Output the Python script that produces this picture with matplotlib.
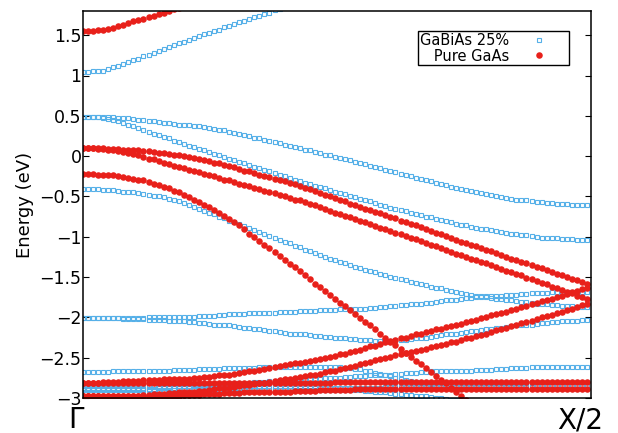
import matplotlib
matplotlib.use("Agg")
import matplotlib.pyplot as plt
import matplotlib.transforms as mtransforms
import numpy as np

# k path from Gamma (0) to X/2 (1), 101 samples per band
k_path = np.linspace(0, 1, 101)

# GaBiAs 25% bands (eV)
gabias_cb = [1.04, 1.04, 1.05, 1.05, 1.06, 1.08, 1.10, 1.12, 1.14, 1.17,
             1.19, 1.21, 1.24, 1.26, 1.28, 1.31, 1.33, 1.35, 1.38, 1.40,
             1.42, 1.44, 1.46, 1.49, 1.51, 1.53, 1.55, 1.57, 1.60, 1.62,
             1.64, 1.66, 1.68, 1.70, 1.72, 1.74, 1.76, 1.78, 1.81, 1.83, 1.85]
gabias_vb1 = [0.49, 0.49, 0.49, 0.49, 0.48, 0.48, 0.48, 0.47, 0.47, 0.47,
              0.46, 0.45, 0.45, 0.44, 0.43, 0.42, 0.41, 0.41, 0.40, 0.39,
              0.39, 0.38, 0.37, 0.37, 0.36, 0.35, 0.34, 0.33, 0.32, 0.30,
              0.29, 0.28, 0.26, 0.25, 0.23, 0.22, 0.20, 0.19, 0.17, 0.16,
              0.14, 0.13, 0.11, 0.10, 0.08, 0.07, 0.05, 0.04, 0.02, 0.01,
              -0.01, -0.02, -0.04, -0.05, -0.07, -0.08, -0.10, -0.12, -0.13, -0.15,
              -0.17, -0.19, -0.20, -0.22, -0.23, -0.25, -0.27, -0.28, -0.30, -0.31,
              -0.33, -0.35, -0.36, -0.38, -0.39, -0.41, -0.42, -0.43, -0.45, -0.46,
              -0.47, -0.48, -0.49, -0.51, -0.52, -0.53, -0.54, -0.55, -0.55, -0.56,
              -0.57, -0.57, -0.58, -0.58, -0.59, -0.59, -0.59, -0.60, -0.60, -0.60, -0.60]
gabias_vb2 = [0.49, 0.49, 0.49, 0.48, 0.47, 0.46, 0.45, 0.43, 0.41, 0.39,
              0.37, 0.35, 0.33, 0.30, 0.28, 0.26, 0.24, 0.22, 0.19, 0.17,
              0.15, 0.13, 0.11, 0.09, 0.07, 0.05, 0.03, 0.01, -0.01, -0.03,
              -0.05, -0.07, -0.09, -0.11, -0.13, -0.15, -0.17, -0.19, -0.21, -0.23,
              -0.25, -0.27, -0.29, -0.31, -0.33, -0.35, -0.37, -0.38, -0.40, -0.42,
              -0.44, -0.46, -0.47, -0.49, -0.51, -0.53, -0.55, -0.56, -0.58, -0.60,
              -0.62, -0.64, -0.65, -0.67, -0.68, -0.70, -0.72, -0.73, -0.75, -0.76,
              -0.78, -0.79, -0.81, -0.82, -0.84, -0.85, -0.86, -0.88, -0.89, -0.90,
              -0.91, -0.92, -0.93, -0.94, -0.95, -0.96, -0.97, -0.98, -0.98, -0.99,
              -1.00, -1.01, -1.01, -1.02, -1.02, -1.03, -1.03, -1.03, -1.04, -1.04, -1.04]
gabias_vb3 = [-0.41, -0.41, -0.41, -0.41, -0.42, -0.42, -0.42, -0.43, -0.44, -0.44,
              -0.45, -0.46, -0.47, -0.48, -0.49, -0.50, -0.51, -0.53, -0.54, -0.56,
              -0.58, -0.60, -0.63, -0.65, -0.68, -0.70, -0.72, -0.75, -0.77, -0.80,
              -0.82, -0.84, -0.87, -0.89, -0.92, -0.94, -0.96, -0.99, -1.01, -1.04,
              -1.06, -1.08, -1.11, -1.13, -1.16, -1.18, -1.20, -1.23, -1.25, -1.27,
              -1.29, -1.31, -1.33, -1.35, -1.37, -1.39, -1.41, -1.43, -1.44, -1.46,
              -1.48, -1.50, -1.51, -1.53, -1.54, -1.56, -1.57, -1.59, -1.60, -1.62,
              -1.63, -1.64, -1.66, -1.67, -1.69, -1.70, -1.71, -1.72, -1.73, -1.74,
              -1.75, -1.76, -1.77, -1.77, -1.78, -1.79, -1.80, -1.81, -1.81, -1.82,
              -1.83, -1.84, -1.84, -1.85, -1.85, -1.86, -1.86, -1.86, -1.87, -1.87, -1.87]
gabias_vb4 = [-2.01, -2.01, -2.01, -2.01, -2.01, -2.01, -2.01, -2.01, -2.01, -2.01,
              -2.01, -2.01, -2.01, -2.00, -2.00, -2.00, -2.00, -2.00, -1.99, -1.99,
              -1.99, -1.99, -1.99, -1.98, -1.98, -1.98, -1.98, -1.97, -1.97, -1.96,
              -1.96, -1.96, -1.96, -1.95, -1.95, -1.95, -1.94, -1.94, -1.94, -1.93,
              -1.93, -1.93, -1.93, -1.92, -1.92, -1.92, -1.92, -1.91, -1.91, -1.91,
              -1.91, -1.90, -1.90, -1.90, -1.89, -1.89, -1.89, -1.88, -1.88, -1.87,
              -1.87, -1.86, -1.86, -1.85, -1.85, -1.84, -1.83, -1.83, -1.82, -1.82,
              -1.81, -1.80, -1.79, -1.79, -1.78, -1.77, -1.76, -1.76, -1.75, -1.75,
              -1.74, -1.74, -1.73, -1.73, -1.72, -1.72, -1.72, -1.71, -1.71, -1.70,
              -1.70, -1.70, -1.70, -1.69, -1.69, -1.69, -1.69, -1.69, -1.68, -1.68, -1.68]
gabias_vb5 = [-2.01, -2.01, -2.01, -2.01, -2.01, -2.01, -2.01, -2.01, -2.02, -2.02,
              -2.02, -2.02, -2.02, -2.03, -2.03, -2.03, -2.03, -2.04, -2.04, -2.05,
              -2.05, -2.06, -2.06, -2.07, -2.07, -2.08, -2.09, -2.09, -2.10, -2.10,
              -2.11, -2.12, -2.13, -2.13, -2.14, -2.15, -2.16, -2.17, -2.17, -2.18,
              -2.19, -2.20, -2.20, -2.21, -2.21, -2.22, -2.23, -2.23, -2.24, -2.24,
              -2.25, -2.26, -2.26, -2.27, -2.27, -2.28, -2.28, -2.28, -2.29, -2.29,
              -2.29, -2.29, -2.28, -2.28, -2.28, -2.27, -2.26, -2.25, -2.25, -2.24,
              -2.23, -2.22, -2.21, -2.21, -2.20, -2.19, -2.18, -2.17, -2.17, -2.16,
              -2.15, -2.14, -2.13, -2.13, -2.12, -2.11, -2.10, -2.10, -2.09, -2.09,
              -2.08, -2.07, -2.07, -2.06, -2.06, -2.05, -2.05, -2.04, -2.04, -2.03, -2.03]
gabias_vb6 = [-2.68, -2.68, -2.68, -2.68, -2.68, -2.68, -2.67, -2.67, -2.67, -2.67,
              -2.67, -2.67, -2.67, -2.66, -2.66, -2.66, -2.66, -2.66, -2.65, -2.65,
              -2.65, -2.65, -2.65, -2.64, -2.64, -2.64, -2.64, -2.64, -2.63, -2.63,
              -2.63, -2.63, -2.63, -2.63, -2.63, -2.62, -2.62, -2.62, -2.62, -2.62,
              -2.62, -2.62, -2.62, -2.62, -2.62, -2.62, -2.62, -2.62, -2.62, -2.62,
              -2.62, -2.62, -2.63, -2.63, -2.64, -2.64, -2.66, -2.67, -2.69, -2.70,
              -2.72, -2.73, -2.75, -2.76, -2.78, -2.79, -2.80, -2.81, -2.82, -2.83,
              -2.84, -2.84, -2.85, -2.85, -2.86, -2.86, -2.86, -2.86, -2.86, -2.86,
              -2.86, -2.86, -2.86, -2.86, -2.86, -2.86, -2.86, -2.86, -2.86, -2.86,
              -2.85, -2.85, -2.85, -2.85, -2.85, -2.85, -2.85, -2.85, -2.85, -2.85, -2.85]
gabias_vb7 = [-2.88, -2.88, -2.88, -2.88, -2.88, -2.88, -2.88, -2.87, -2.87, -2.87,
              -2.87, -2.87, -2.87, -2.86, -2.86, -2.86, -2.86, -2.86, -2.85, -2.85,
              -2.85, -2.85, -2.84, -2.84, -2.84, -2.84, -2.83, -2.83, -2.83, -2.82,
              -2.82, -2.82, -2.81, -2.81, -2.80, -2.80, -2.80, -2.79, -2.79, -2.78,
              -2.78, -2.78, -2.77, -2.77, -2.77, -2.76, -2.76, -2.76, -2.75, -2.75,
              -2.75, -2.75, -2.74, -2.74, -2.73, -2.73, -2.73, -2.72, -2.72, -2.71,
              -2.71, -2.71, -2.70, -2.70, -2.69, -2.69, -2.69, -2.68, -2.68, -2.67,
              -2.67, -2.67, -2.67, -2.66, -2.66, -2.66, -2.66, -2.66, -2.65, -2.65,
              -2.65, -2.65, -2.64, -2.64, -2.64, -2.63, -2.63, -2.63, -2.63, -2.62,
              -2.62, -2.62, -2.62, -2.62, -2.62, -2.62, -2.62, -2.62, -2.62, -2.62, -2.62]
gabias_vb8 = [-2.89, -2.89, -2.89, -2.89, -2.89, -2.89, -2.89, -2.89, -2.89, -2.89,
              -2.89, -2.89, -2.89, -2.89, -2.89, -2.88, -2.88, -2.88, -2.88, -2.88,
              -2.88, -2.88, -2.88, -2.88, -2.88, -2.88, -2.88, -2.88, -2.88, -2.88,
              -2.88, -2.88, -2.88, -2.88, -2.88, -2.87, -2.87, -2.87, -2.87, -2.87,
              -2.87, -2.87, -2.87, -2.87, -2.87, -2.87, -2.87, -2.87, -2.87, -2.87,
              -2.87, -2.87, -2.87, -2.87, -2.87, -2.87, -2.87, -2.87, -2.87, -2.87,
              -2.86, -2.86, -2.86, -2.86, -2.86, -2.86, -2.86, -2.86, -2.86, -2.86,
              -2.86, -2.86, -2.86, -2.86, -2.86, -2.86, -2.86, -2.86, -2.86, -2.86,
              -2.85, -2.85, -2.85, -2.85, -2.85, -2.85, -2.85, -2.85, -2.85, -2.85,
              -2.85, -2.85, -2.85, -2.85, -2.85, -2.85, -2.85, -2.85, -2.85, -2.85, -2.85]
gabias_vb9 = [-2.90, -2.90, -2.90, -2.90, -2.90, -2.90, -2.90, -2.90, -2.90, -2.90,
              -2.90, -2.90, -2.90, -2.90, -2.90, -2.90, -2.90, -2.90, -2.90, -2.90,
              -2.90, -2.90, -2.90, -2.90, -2.90, -2.90, -2.90, -2.90, -2.90, -2.90,
              -2.90, -2.90, -2.90, -2.90, -2.90, -2.90, -2.90, -2.90, -2.90, -2.90,
              -2.90, -2.90, -2.90, -2.90, -2.90, -2.90, -2.90, -2.90, -2.90, -2.90,
              -2.90, -2.90, -2.90, -2.90, -2.90, -2.90, -2.91, -2.91, -2.92, -2.93,
              -2.93, -2.94, -2.95, -2.95, -2.96, -2.96, -2.97, -2.98, -2.98, -2.99,
              -3.00, -3.00, -3.01, -3.02, -3.03]

# Pure GaAs bands (eV)
gaas_cb = [1.55, 1.55, 1.55, 1.56, 1.57, 1.58, 1.59, 1.61, 1.63, 1.65,
           1.67, 1.69, 1.70, 1.72, 1.74, 1.76, 1.78, 1.80, 1.82, 1.84, 1.86]
gaas_hh = [0.10, 0.10, 0.10, 0.10, 0.10, 0.09, 0.09, 0.09, 0.08, 0.08,
           0.07, 0.07, 0.06, 0.06, 0.05, 0.04, 0.04, 0.03, 0.02, 0.01,
           0.00, -0.01, -0.02, -0.04, -0.05, -0.06, -0.08, -0.09, -0.11, -0.12,
           -0.14, -0.16, -0.18, -0.19, -0.21, -0.23, -0.25, -0.26, -0.28, -0.29,
           -0.31, -0.33, -0.35, -0.37, -0.39, -0.41, -0.43, -0.46, -0.48, -0.50,
           -0.52, -0.54, -0.56, -0.59, -0.61, -0.63, -0.65, -0.67, -0.69, -0.71,
           -0.73, -0.75, -0.77, -0.80, -0.82, -0.84, -0.86, -0.88, -0.91, -0.93,
           -0.95, -0.97, -0.99, -1.02, -1.04, -1.06, -1.08, -1.10, -1.12, -1.14,
           -1.16, -1.18, -1.20, -1.23, -1.25, -1.27, -1.29, -1.31, -1.33, -1.35,
           -1.37, -1.39, -1.41, -1.44, -1.46, -1.48, -1.50, -1.52, -1.54, -1.56, -1.58]
gaas_lh = [0.10, 0.10, 0.10, 0.09, 0.09, 0.08, 0.07, 0.06, 0.05, 0.04,
           0.03, 0.01, -0.01, -0.03, -0.04, -0.06, -0.08, -0.10, -0.12, -0.13,
           -0.15, -0.17, -0.18, -0.20, -0.22, -0.24, -0.25, -0.27, -0.29, -0.30,
           -0.32, -0.34, -0.36, -0.37, -0.39, -0.41, -0.43, -0.45, -0.46, -0.48,
           -0.50, -0.52, -0.54, -0.55, -0.57, -0.59, -0.61, -0.63, -0.66, -0.68,
           -0.70, -0.72, -0.74, -0.76, -0.78, -0.80, -0.82, -0.84, -0.87, -0.89,
           -0.91, -0.93, -0.95, -0.97, -0.99, -1.01, -1.03, -1.05, -1.08, -1.10,
           -1.12, -1.14, -1.16, -1.19, -1.21, -1.23, -1.25, -1.27, -1.29, -1.31,
           -1.33, -1.35, -1.37, -1.40, -1.42, -1.44, -1.46, -1.48, -1.51, -1.53,
           -1.55, -1.57, -1.59, -1.62, -1.64, -1.66, -1.68, -1.70, -1.73, -1.75, -1.77]
gaas_so = [-0.22, -0.22, -0.22, -0.23, -0.23, -0.24, -0.24, -0.25, -0.26, -0.27,
           -0.28, -0.29, -0.30, -0.32, -0.34, -0.36, -0.38, -0.40, -0.43, -0.45,
           -0.48, -0.51, -0.54, -0.57, -0.60, -0.63, -0.67, -0.70, -0.74, -0.78,
           -0.82, -0.86, -0.91, -0.96, -1.00, -1.05, -1.10, -1.14, -1.19, -1.24,
           -1.29, -1.34, -1.38, -1.43, -1.48, -1.53, -1.58, -1.62, -1.67, -1.72,
           -1.77, -1.82, -1.86, -1.91, -1.96, -2.01, -2.06, -2.10, -2.15, -2.20,
           -2.25, -2.30, -2.34, -2.39, -2.44, -2.49, -2.54, -2.58, -2.63, -2.68,
           -2.73, -2.78, -2.82, -2.87, -2.92, -2.97, -3.02, -3.07]
gaas_d1 = [-2.81, -2.81, -2.81, -2.81, -2.80, -2.80, -2.80, -2.80, -2.79, -2.79,
           -2.79, -2.79, -2.78, -2.78, -2.78, -2.78, -2.77, -2.77, -2.77, -2.76,
           -2.76, -2.76, -2.75, -2.75, -2.74, -2.74, -2.73, -2.72, -2.72, -2.71,
           -2.70, -2.69, -2.68, -2.67, -2.66, -2.65, -2.64, -2.63, -2.62, -2.60,
           -2.59, -2.58, -2.57, -2.56, -2.55, -2.54, -2.53, -2.52, -2.50, -2.49,
           -2.48, -2.46, -2.45, -2.43, -2.42, -2.40, -2.38, -2.36, -2.35, -2.33,
           -2.31, -2.29, -2.28, -2.26, -2.25, -2.23, -2.21, -2.20, -2.18, -2.17,
           -2.15, -2.14, -2.12, -2.11, -2.09, -2.08, -2.06, -2.04, -2.03, -2.01,
           -1.99, -1.97, -1.96, -1.94, -1.93, -1.91, -1.89, -1.87, -1.86, -1.84,
           -1.82, -1.80, -1.78, -1.77, -1.75, -1.73, -1.71, -1.69, -1.67, -1.65, -1.63]
gaas_d2 = [-2.81, -2.81, -2.81, -2.81, -2.81, -2.81, -2.81, -2.81, -2.81, -2.81,
           -2.81, -2.81, -2.81, -2.81, -2.81, -2.81, -2.81, -2.81, -2.81, -2.81,
           -2.81, -2.81, -2.81, -2.81, -2.81, -2.81, -2.81, -2.81, -2.81, -2.81,
           -2.81, -2.81, -2.81, -2.81, -2.81, -2.81, -2.81, -2.81, -2.81, -2.81,
           -2.81, -2.81, -2.81, -2.81, -2.81, -2.81, -2.81, -2.81, -2.81, -2.81,
           -2.80, -2.80, -2.80, -2.80, -2.80, -2.80, -2.80, -2.80, -2.80, -2.80,
           -2.80, -2.80, -2.80, -2.80, -2.80, -2.80, -2.80, -2.80, -2.80, -2.80,
           -2.80, -2.80, -2.80, -2.80, -2.80, -2.80, -2.80, -2.80, -2.80, -2.80,
           -2.80, -2.80, -2.80, -2.80, -2.80, -2.80, -2.80, -2.80, -2.80, -2.80,
           -2.80, -2.80, -2.80, -2.80, -2.80, -2.80, -2.80, -2.80, -2.80, -2.80, -2.80]
gaas_d3 = [-2.98, -2.98, -2.98, -2.98, -2.98, -2.98, -2.98, -2.97, -2.97, -2.97,
           -2.97, -2.97, -2.96, -2.96, -2.95, -2.95, -2.95, -2.94, -2.94, -2.93,
           -2.93, -2.92, -2.92, -2.91, -2.91, -2.90, -2.89, -2.88, -2.88, -2.87,
           -2.86, -2.85, -2.84, -2.84, -2.83, -2.82, -2.81, -2.80, -2.79, -2.78,
           -2.77, -2.76, -2.75, -2.74, -2.73, -2.72, -2.71, -2.70, -2.68, -2.67,
           -2.66, -2.64, -2.63, -2.61, -2.60, -2.58, -2.56, -2.55, -2.53, -2.52,
           -2.50, -2.49, -2.47, -2.46, -2.44, -2.43, -2.42, -2.40, -2.39, -2.37,
           -2.36, -2.34, -2.33, -2.31, -2.30, -2.28, -2.26, -2.25, -2.23, -2.22,
           -2.20, -2.18, -2.16, -2.15, -2.13, -2.11, -2.09, -2.07, -2.06, -2.04,
           -2.02, -2.00, -1.98, -1.97, -1.95, -1.93, -1.91, -1.89, -1.87, -1.85, -1.83]
gaas_d4 = [-2.98, -2.98, -2.98, -2.98, -2.98, -2.98, -2.98, -2.98, -2.98, -2.98,
           -2.97, -2.97, -2.97, -2.97, -2.97, -2.97, -2.97, -2.97, -2.97, -2.97,
           -2.96, -2.96, -2.96, -2.96, -2.95, -2.95, -2.95, -2.95, -2.94, -2.94,
           -2.94, -2.94, -2.93, -2.93, -2.93, -2.93, -2.92, -2.92, -2.92, -2.92,
           -2.92, -2.92, -2.91, -2.91, -2.91, -2.91, -2.91, -2.90, -2.90, -2.90,
           -2.90, -2.90, -2.90, -2.90, -2.89, -2.89, -2.89, -2.89, -2.89, -2.89,
           -2.89, -2.89, -2.89, -2.89, -2.89, -2.89, -2.89, -2.89, -2.89, -2.89,
           -2.89, -2.89, -2.89, -2.89, -2.89, -2.89, -2.89, -2.89, -2.89, -2.89,
           -2.89, -2.89, -2.89, -2.89, -2.89, -2.89, -2.89, -2.89, -2.89, -2.89,
           -2.89, -2.89, -2.89, -2.89, -2.89, -2.89, -2.89, -2.89, -2.89, -2.89, -2.89]
gaas_d5 = [-2.98, -2.98, -2.98, -2.98, -2.99, -2.99, -2.99, -2.99, -3.00, -3.00,
           -3.00, -3.00, -3.01, -3.01, -3.01, -3.02, -3.02, -3.02, -3.03, -3.03,
           -3.04, -3.04, -3.05]

gabias_bands = [gabias_cb, gabias_vb1, gabias_vb2, gabias_vb3, gabias_vb4,
                gabias_vb5, gabias_vb6, gabias_vb7, gabias_vb8, gabias_vb9]
gaas_bands = [gaas_cb, gaas_hh, gaas_lh, gaas_so, gaas_d1, gaas_d2,
              gaas_d3, gaas_d4, gaas_d5]

yticks = [-3, -2.5, -2, -1.5, -1, -0.5, 0, 0.5, 1, 1.5]
ytick_labels = ['\u22123', '\u22122.5', '\u22122', '\u22121.5', '\u22121',
                '\u22120.5', '0', '0.5', '1', '1.5']
xtick_labels = ['\u0393', 'X/2']

blue = '#56b0e8'
red = '#e8201a'

fig = plt.figure(figsize=(6.18, 4.33), dpi=100)
ax = fig.add_axes([83 / 618, 1 - 398 / 433, 508 / 618, 387 / 433])

for i, band in enumerate(gabias_bands):
    ax.plot(k_path[:len(band)], band, linestyle='none', marker='s', ms=3.3,
            mfc='none', mec=blue, mew=0.8,
            label='GaBiAs 25%' if i == 0 else None)

for i, band in enumerate(gaas_bands):
    ax.plot(k_path[:len(band)], band, linestyle='none', marker='o', ms=4.7,
            mfc=red, mec=red, mew=0,
            label='   Pure GaAs' if i == 0 else None)

ax.set_xlim(0, 1.008)
ax.set_ylim(-3, 1.8)
ax.set_axisbelow(True)

ax.set_yticks(yticks)
ax.set_yticklabels(ytick_labels, fontsize=12.5)
ax.tick_params(axis='y', direction='in', left=True, right=True, length=4,
               width=0.8, pad=1)

ax.set_xticks([0, 1])
ax.set_xticklabels(xtick_labels, fontsize=20)
ax.tick_params(axis='x', length=0, pad=6)
shift = mtransforms.ScaledTranslation(-7 / 100, 0, fig.dpi_scale_trans)
for lbl in ax.get_xticklabels():
    lbl.set_transform(lbl.get_transform() + shift)

ax.set_ylabel('Energy (eV)', fontsize=13)

for sp in ax.spines.values():
    sp.set_linewidth(1.1)

leg = ax.legend(loc='upper right', bbox_to_anchor=(0.957, 0.948),
                borderaxespad=0, markerfirst=False, fontsize=10.5,
                fancybox=False, edgecolor='black', framealpha=1,
                handlelength=3.9, handletextpad=0.1, borderpad=0.12,
                labelspacing=0.05)
leg.get_frame().set_linewidth(1.0)

fig.savefig('out.png', dpi=100)
